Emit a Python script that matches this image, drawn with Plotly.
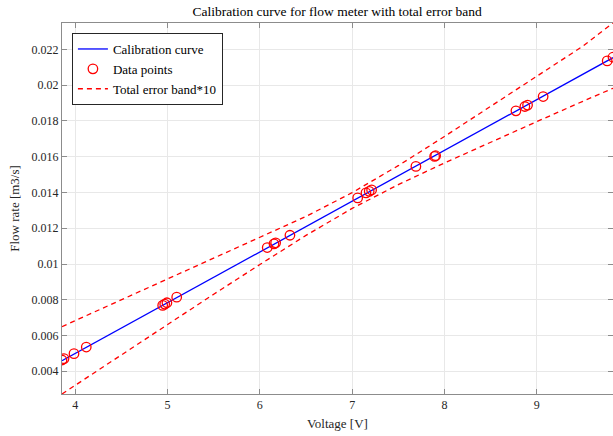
import plotly.graph_objects as go

# Measured calibration points: voltage [V] and flow rate [m3/s]
voltage = [3.856, 3.878, 3.986, 4.119, 4.947, 4.969, 4.993, 5.099,
           6.080, 6.153, 6.171, 6.326, 7.060, 7.150, 7.185, 7.211,
           7.691, 7.894, 7.905, 8.775, 8.872, 8.901, 9.070, 9.764, 9.827]
flow = [0.004631, 0.004709, 0.004988, 0.005356, 0.007684, 0.007757, 0.007835, 0.008147,
        0.010922, 0.011128, 0.011184, 0.011608, 0.013696, 0.013975, 0.014065, 0.014143,
        0.015460, 0.016018, 0.016057, 0.018569, 0.018809, 0.018887, 0.019367, 0.021360, 0.021567]

# Fitted calibration line (end points over the measured range)
cal_v = [3.856, 9.827]
cal_q = [0.004590, 0.021540]

# Total error band (scaled by 10) around the calibration line
band_v = [3.856, 4.5, 5.0, 5.5, 6.0, 6.5, 7.0, 7.5, 8.0, 8.5, 9.0, 9.5, 9.827]
band_upper = [0.00650, 0.00800, 0.00914, 0.01029, 0.01145, 0.01266, 0.01399,
              0.01550, 0.01713, 0.01880, 0.02048, 0.02218, 0.02348]
band_lower = [0.00273, 0.00492, 0.00662, 0.00831, 0.00997, 0.01160, 0.01311,
              0.01444, 0.01565, 0.01682, 0.01796, 0.01910, 0.01983]

x_ticks = [4, 5, 6, 7, 8, 9]
y_ticks = [0.004, 0.006, 0.008, 0.010, 0.012, 0.014, 0.016, 0.018, 0.020, 0.022]
y_tick_text = ["0.004", "0.006", "0.008", "0.01", "0.012", "0.014",
               "0.016", "0.018", "0.02", "0.022"]

FONT = "Liberation Serif"
AXIS_GREY = "#8c8c8c"
GRID_GREY = "#e8e8e8"
TEXT = "#262626"

fig = go.Figure()

fig.add_trace(go.Scatter(
    x=cal_v, y=cal_q, mode="lines", name="Calibration curve",
    line=dict(color="#0000ff", width=1.3),
))
fig.add_trace(go.Scatter(
    x=voltage, y=flow, mode="markers", name="Data points",
    marker=dict(symbol="circle-open", size=9.5, color="#ff0000",
                line=dict(color="#ff0000", width=1.3)),
))
fig.add_trace(go.Scatter(
    x=band_v, y=band_upper, mode="lines", name="Total error band*10",
    line=dict(color="#ff0000", width=1.3, dash="5px,4px"),
))
fig.add_trace(go.Scatter(
    x=band_v, y=band_lower, mode="lines", showlegend=False,
    line=dict(color="#ff0000", width=1.3, dash="5px,4px"),
))

axis_common = dict(
    showline=True, linecolor=AXIS_GREY, linewidth=1, mirror="ticks",
    ticks="inside", ticklen=5, tickcolor=AXIS_GREY, tickwidth=1,
    showgrid=True, gridcolor=GRID_GREY, gridwidth=1, zeroline=False,
    tickfont=dict(family=FONT, size=12, color=TEXT),
)

fig.update_xaxes(
    range=[min(voltage), max(voltage)], tickvals=x_ticks,
    title=dict(text="Voltage [V]", font=dict(family=FONT, size=13, color=TEXT),
               standoff=7),
    **axis_common,
)
fig.update_yaxes(
    range=[min(band_lower), max(band_upper)], tickvals=y_ticks, ticktext=y_tick_text,
    title=dict(text="Flow rate [m3/s]", font=dict(family=FONT, size=13, color=TEXT),
               standoff=9),
    **axis_common,
)

fig.update_layout(
    width=613, height=436,
    margin=dict(l=62, r=0, t=23, b=42),
    paper_bgcolor="white", plot_bgcolor="white",
    title=dict(text="Calibration curve for flow meter with total error band",
               font=dict(family=FONT, size=13.5, color="#000000"),
               x=0.55, xanchor="center", y=0.985, yanchor="top"),
    legend=dict(
        x=0.018, y=0.973, xanchor="left", yanchor="top",
        bgcolor="white", bordercolor=TEXT, borderwidth=1,
        font=dict(family=FONT, size=13, color="#000000"),
        tracegroupgap=0, itemwidth=30,
    ),
    showlegend=True,
)

fig.write_html("out.html")
